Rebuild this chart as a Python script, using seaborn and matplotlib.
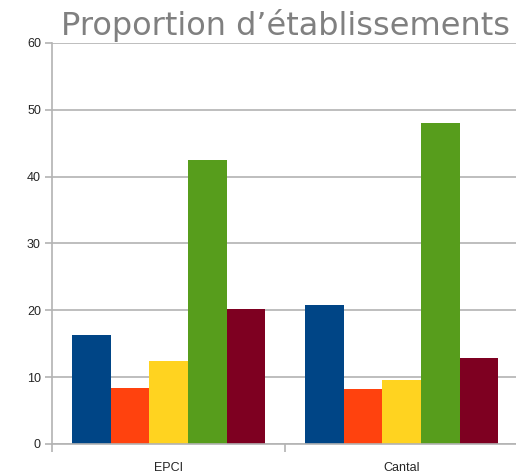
import pandas as pd
import matplotlib.pyplot as plt
import seaborn as sns
from matplotlib.ticker import FixedLocator

#---------- data
groups = ["EPCI", "Cantal"]
series = ["s1", "s2", "s3", "s4", "s5"]
epci_values = [16.3, 8.4, 12.4, 42.5, 20.2]
cantal_values = [20.8, 8.2, 9.6, 48.0, 12.9]
colors = ["#004586", "#ff420e", "#ffd320", "#579d1c", "#7e0021"]

rows = []
for s, a, b in zip(series, epci_values, cantal_values):
    rows.append({"group": "EPCI", "serie": s, "value": a})
    rows.append({"group": "Cantal", "serie": s, "value": b})
df = pd.DataFrame(rows)

#---------- figure
sns.set_style("white")
plt.rcParams['font.family'] = ['Liberation Sans', 'DejaVu Sans']
fig = plt.figure(figsize=(5.16, 4.75), dpi=100)
ax = fig.add_axes([0.1008, 0.0653, 0.9032, 0.8442])

sns.barplot(data=df, x="group", y="value", hue="serie", order=groups,
            hue_order=series, palette=colors, width=0.83, saturation=1,
            linewidth=0, legend=False, ax=ax)

ax.set_xlim(-0.5, 1.5)
ax.set_ylim(0, 60)
ax.set_yticks(range(0, 61, 10))
ax.yaxis.grid(True, color="#b3b3b3", linewidth=1.2)
ax.set_axisbelow(True)
ax.set_xlabel("")
ax.set_ylabel("")
for side in ["top", "right"]:
    ax.spines[side].set_visible(False)
for side in ["left", "bottom"]:
    ax.spines[side].set_color("#b3b3b3")
    ax.spines[side].set_linewidth(1.2)
ax.xaxis.set_minor_locator(FixedLocator([-0.5, 0.5, 1.5]))
ax.tick_params(axis="x", which="major", bottom=False, length=0, labelsize=9, pad=13)
ax.tick_params(axis="x", which="minor", bottom=True, length=6, color="#b3b3b3", width=1.2)
ax.tick_params(axis="y", left=True, length=5, color="#b3b3b3", width=1.2, labelsize=9, pad=3)

fig.text(0.553, 0.926, "Proportion d\u2019établissements", ha="center", va="baseline",
         fontsize=23, color="#808080", family="DejaVu Sans")

fig.savefig("out.png", dpi=100)
